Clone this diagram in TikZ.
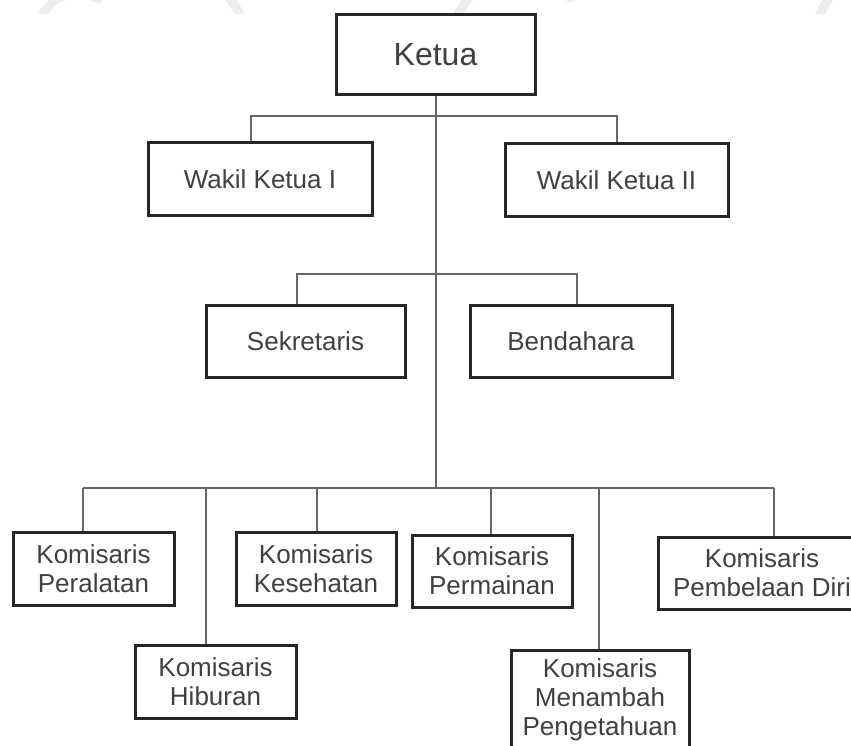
\documentclass[tikz,border=0pt]{standalone}
\usepackage{fontspec}
\setmainfont{Liberation Sans}
\begin{document}
\begin{tikzpicture}[x=1pt,y=-1pt,
  box/.style={draw=black!85, line width=3pt, fill=white, rectangle, inner sep=0pt,
    align=center, text=black!75, font=\fontsize{26}{29}\selectfont},
  conn/.style={draw=black!60, line width=2pt},
  wm/.style={draw=black!7, line width=9pt, line cap=round}]
\useasboundingbox (0,0) rectangle (851,746);
\clip (0,0) rectangle (851,746);
% faint watermark at the top
\begin{scope}
\clip (0,0) rectangle (851,14);
\draw[wm] (40,20) arc[start angle=200,end angle=300,radius=40];
\draw[wm] (228,-5) -- (240,14);
\draw[wm] (458,14) -- (470,-5);
\draw[wm] (570,-2) arc[start angle=190,end angle=300,radius=50];
\draw[wm] (820,14) -- (830,-5);
\end{scope}
% boxes
\node[box, minimum width=199, minimum height=80, font=\fontsize{32}{36}\selectfont] (ketua) at (435.5,55) {Ketua};
\node[box, minimum width=224, minimum height=73] (w1) at (260,179.5) {Wakil Ketua I};
\node[box, minimum width=223, minimum height=73] (w2) at (616.5,180.5) {Wakil Ketua II};
\node[box, minimum width=199, minimum height=72] (sek) at (305.5,341) {Sekretaris};
\node[box, minimum width=202, minimum height=72] (ben) at (571,341) {Bendahara};
\node[box, minimum width=161, minimum height=73] (per) at (93.5,568.5) {Komisaris\\Peralatan};
\node[box, minimum width=161, minimum height=73] (hib) at (215.5,681.5) {Komisaris\\Hiburan};
\node[box, minimum width=160, minimum height=73] (kes) at (316,568.5) {Komisaris\\Kesehatan};
\node[box, minimum width=160, minimum height=72] (perm) at (492,571) {Komisaris\\Permainan};
\node[box, minimum width=178, minimum height=100] (men) at (600,700) {Komisaris\\Menambah\\Pengetahuan};
\node[box, minimum width=208, minimum height=72] (pem) at (762,573) {Komisaris\\Pembelaan Diri};
% junction coordinates
\coordinate (jw1) at (251,116);
\coordinate (jw2) at (617,116);
\coordinate (js) at (297,274);
\coordinate (jb) at (577,274);
\coordinate (jbot) at (435.5,488);
\coordinate (jper) at (83,488);
\coordinate (jhib) at (206,488);
\coordinate (jkes) at (317,488);
\coordinate (jperm) at (491,488);
\coordinate (jmen) at (599,488);
\coordinate (jpem) at (774,488);
% connectors
\begin{scope}[on background layer/.style={}]
\draw[conn] (ketua.south) -- (jbot);
\draw[conn] (w1.north -| jw1) -- (jw1) -- (jw2) -- (w2.north -| jw2);
\draw[conn] (sek.north -| js) -- (js) -- (jb) -- (ben.north -| jb);
\draw[conn] (jper) -- (jpem);
\draw[conn] (jper) -- (per.north -| jper);
\draw[conn] (jhib) -- (hib.north -| jhib);
\draw[conn] (jkes) -- (kes.north -| jkes);
\draw[conn] (jperm) -- (perm.north -| jperm);
\draw[conn] (jmen) -- (men.north -| jmen);
\draw[conn] (jpem) -- (pem.north -| jpem);
\end{scope}
\end{tikzpicture}
\end{document}
